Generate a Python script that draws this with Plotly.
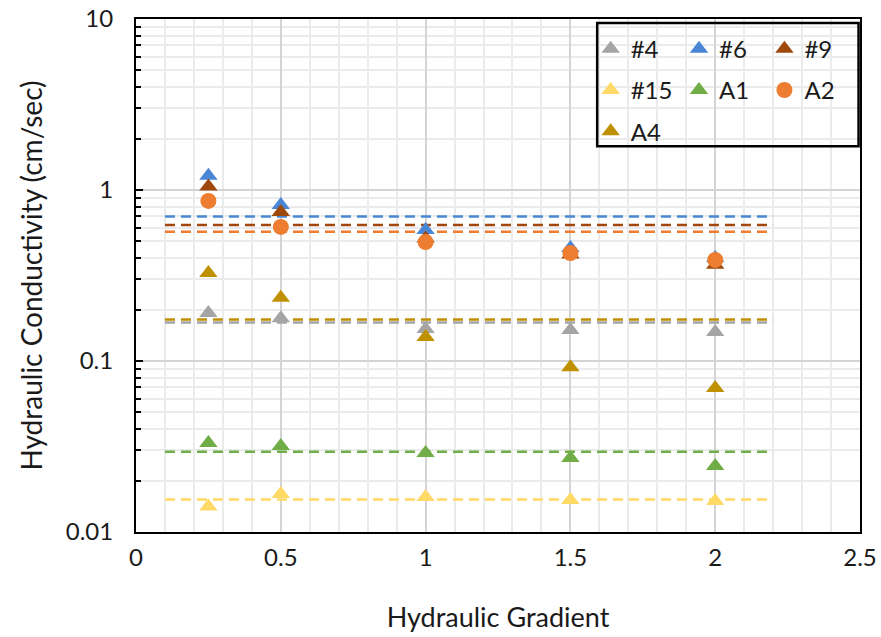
import plotly.graph_objects as go

gradient = [0.25, 0.5, 1.0, 1.5, 2.0]
series_names = ["#4", "#6", "#9", "#15", "A1", "A2", "A4"]
k_4 = [0.191, 0.178, 0.154, 0.152, 0.148]
k_6 = [1.21, 0.817, 0.583, 0.458, 0.40]
k_9 = [1.05, 0.743, 0.52, 0.42, 0.365]
k_15 = [0.0141, 0.0167, 0.0160, 0.0154, 0.0152]
k_A1 = [0.0331, 0.0318, 0.0290, 0.0271, 0.0243]
k_A2 = [0.863, 0.608, 0.496, 0.428, 0.39]
k_A4 = [0.327, 0.234, 0.138, 0.092, 0.0695]
mean_x = [0.1, 2.2]
mean_k = {"#4": 0.168, "#6": 0.70, "#9": 0.625, "#15": 0.0155,
          "A1": 0.0295, "A2": 0.57, "A4": 0.175}

values = {"#4": k_4, "#6": k_6, "#9": k_9, "#15": k_15,
          "A1": k_A1, "A2": k_A2, "A4": k_A4}
colors = {"#4": "#A5A5A5", "#6": "#4A86D6", "#9": "#9E480E", "#15": "#FFD966",
          "A1": "#70AD47", "A2": "#ED7D31", "A4": "#BF9000"}
symbols = {"#4": "triangle-up", "#6": "triangle-up", "#9": "triangle-up",
           "#15": "triangle-up", "A1": "triangle-up", "A2": "circle",
           "A4": "triangle-up"}
legend_of = {"#4": "legend", "#15": "legend", "A4": "legend",
             "#6": "legend2", "A1": "legend2",
             "#9": "legend3", "A2": "legend3"}

FONT = "Lato"
TXT = "#1a1a1a"
fig = go.Figure()

# mean dashed lines (behind markers)
for name in series_names:
    fig.add_trace(go.Scatter(
        x=mean_x, y=[mean_k[name]] * 2, mode="lines",
        line=dict(color=colors[name], width=2.5, dash="10px,6px"),
        showlegend=False, hoverinfo="skip"))

for name in series_names:
    fig.add_trace(go.Scatter(
        x=gradient, y=values[name], mode="markers", name=name,
        legend=legend_of[name], legendgroup=name,
        marker=dict(symbol=symbols[name], color=colors[name],
                    size=16, line=dict(width=0))))

legend_common = dict(font=dict(family=FONT, size=24, color=TXT),
                     bgcolor="rgba(0,0,0,0)", borderwidth=0,
                     yanchor="top", y=0.985, xanchor="left",
                     tracegroupgap=7, itemwidth=30)

fig.update_layout(
    width=881, height=637,
    margin=dict(l=136, r=21, t=19, b=105, autoexpand=False),
    paper_bgcolor="white", plot_bgcolor="white",
    font=dict(family=FONT, size=20, color=TXT),
    legend=dict(x=0.628, **legend_common),
    legend2=dict(x=0.750, **legend_common),
    legend3=dict(x=0.868, **legend_common),
    xaxis=dict(
        range=[0, 2.5], dtick=0.5, tick0=0, automargin=False,
        ticklabeloverflow="allow",
        showgrid=True, gridcolor="#D4D4D4", gridwidth=2,
        minor=dict(dtick=0.1, showgrid=True, gridcolor="#EBEBEB", gridwidth=1.5),
        showline=True, linecolor="black", linewidth=2, mirror=True,
        ticks="", zeroline=False,
        tickfont=dict(family=FONT, size=24, color=TXT),
        ticklabelstandoff=3,
        title=dict(text="Hydraulic Gradient", standoff=38,
                   font=dict(family=FONT, size=27, color=TXT)),
    ),
    yaxis=dict(
        type="log", range=[-2, 1], automargin=False,
        ticklabeloverflow="allow",
        tickvals=[0.01, 0.1, 1, 10], ticktext=["0.01", "0.1", "1", "10"],
        showgrid=True, gridcolor="#D4D4D4", gridwidth=2,
        minor=dict(dtick="D1", showgrid=True, gridcolor="#EBEBEB", gridwidth=1.5,
                   ticks="inside", ticklen=5, tickcolor="black", tickwidth=1.5),
        ticks="inside", ticklen=7, tickcolor="black", tickwidth=1.5,
        showline=True, linecolor="black", linewidth=2, mirror=True,
        zeroline=False,
        tickfont=dict(family=FONT, size=24, color=TXT),
        ticklabelstandoff=16,
        title=dict(text="Hydraulic Conductivity (cm/sec)", standoff=15,
                   font=dict(family=FONT, size=28, color=TXT)),
    ),
    shapes=[dict(type="rect", xref="paper", yref="paper",
                 x0=0.637, x1=0.998, y0=0.752, y1=0.992,
                 line=dict(color="black", width=2.5), fillcolor="rgba(0,0,0,0)",
                 layer="above")],
)

fig.write_html("out.html")
